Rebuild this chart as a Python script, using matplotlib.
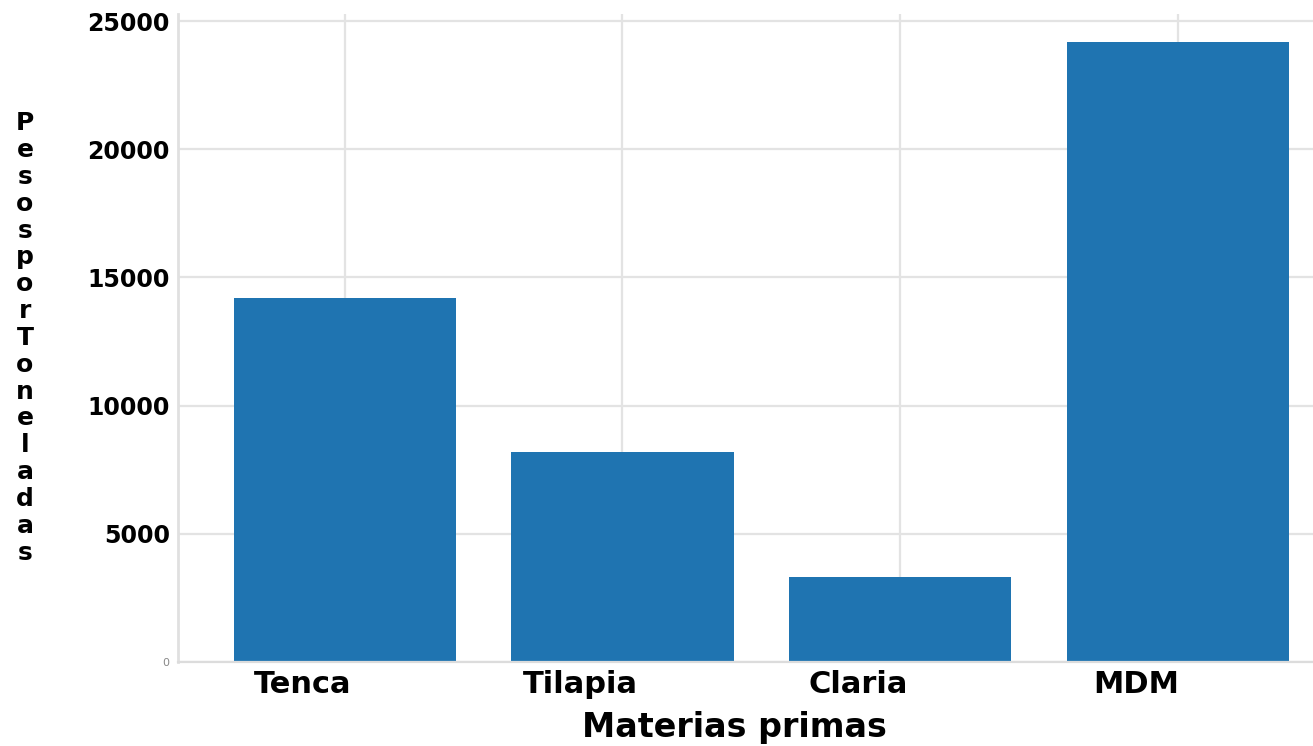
import matplotlib.pyplot as plt

materias = ['Tenca', 'Tilapia', 'Claria', 'MDM']
pesos = [14200, 8200, 3300, 24200]
yticks = [0, 5000, 10000, 15000, 20000, 25000]

fig = plt.figure(figsize=(13.13, 7.46), dpi=100)
ax = fig.add_axes([0.1356, 0.1126, 0.8644, 0.8685])

x = list(range(len(materias)))
ax.bar(x, pesos, width=0.8, color='#1f74b1', zorder=2)

ax.set_xlim(-0.6, 3.486)
ax.set_ylim(0, 25270)

ax.grid(True, which='major', color='#e3e3e3', linewidth=1.6, zorder=0)
ax.set_axisbelow(True)
for s in ['top', 'right']:
    ax.spines[s].set_visible(False)
ax.spines['left'].set_color('#e0e0e0')
ax.spines['left'].set_linewidth(2)
ax.spines['bottom'].set_color('#dcdcdc')
ax.spines['bottom'].set_linewidth(1.6)
ax.tick_params(which='both', length=0)

ax.set_yticks(yticks)
ax.set_yticklabels([str(v) for v in yticks])
for lab in ax.get_yticklabels():
    if lab.get_text() == '0':
        lab.set_fontsize(8)
        lab.set_color('#888888')
    else:
        lab.set_fontsize(17)
        lab.set_fontweight('bold')
ax.tick_params(axis='y', pad=6)

# gridlines on the categories, names on minor ticks a bit to the left
ax.set_xticks(x)
ax.set_xticklabels([])
ax.set_xticks([i - 0.15 for i in x], minor=True)
ax.set_xticklabels(materias, minor=True, fontsize=22, fontweight='bold')
ax.tick_params(axis='x', which='minor', pad=6)

ax.set_xlabel('Materias primas', fontsize=24, fontweight='bold', labelpad=12)
ax.xaxis.set_label_coords(0.49, -0.075)

# stacked y label, one letter per line
fig.text(0.019, 0.547, '\n'.join('PesosporToneladas'), fontsize=18,
         fontweight='bold', ha='center', va='center', linespacing=1.15)

fig.savefig('out.png', dpi=100)
